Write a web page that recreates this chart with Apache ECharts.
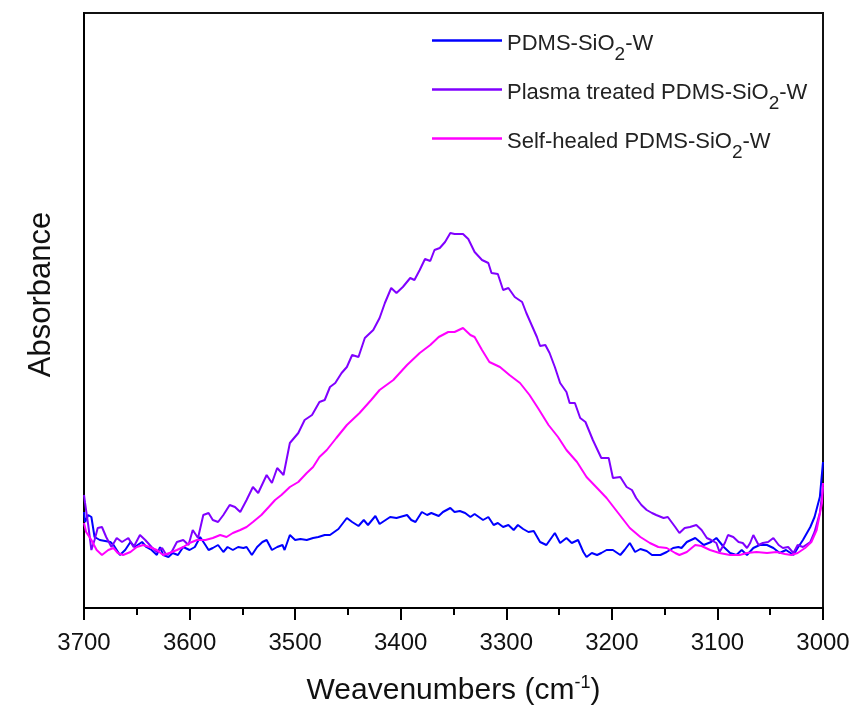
<!DOCTYPE html>
<html>
<head>
<meta charset="utf-8">
<script src="https://cdn.jsdelivr.net/npm/echarts@6/dist/echarts.min.js"></script>
<style>
  html, body { margin: 0; padding: 0; background: #fff; }
  #chart { width: 855px; height: 708px; }
</style>
</head>
<body>
<div id="chart"></div>
<script>
// FTIR spectra in the O-H stretching region, [wavenumber (cm-1), absorbance (a.u.)]
const seriesNames = [
  'PDMS-SiO2-W',
  'Plasma treated PDMS-SiO2-W',
  'Self-healed PDMS-SiO2-W'
];
const seriesColors = ['#0000ff', '#8000ff', '#ff00ff'];

const pdmsSpectrum = [
  [3700,0.096],[3699,0.086],[3696,0.093],[3693,0.091],[3690,0.071],[3685,0.068],[3675,0.066],[3672,0.063],
  [3666,0.053],[3661,0.058],[3656,0.066],[3652,0.061],[3645,0.066],[3641,0.061],[3636,0.058],[3631,0.053],
  [3628,0.061],[3625,0.053],[3620,0.051],[3616,0.055],[3611,0.053],[3606,0.061],[3600,0.058],[3595,0.061],
  [3590,0.071],[3585,0.063],[3582,0.058],[3578,0.060],[3573,0.063],[3568,0.056],[3564,0.061],[3559,0.058],
  [3554,0.061],[3549,0.060],[3546,0.061],[3541,0.053],[3536,0.061],[3531,0.066],[3527,0.068],[3522,0.058],
  [3517,0.061],[3512,0.063],[3510,0.058],[3505,0.073],[3500,0.068],[3495,0.069],[3489,0.068],[3483,0.070],
  [3478,0.071],[3472,0.073],[3467,0.073],[3459,0.079],[3451,0.090],[3446,0.086],[3440,0.082],[3435,0.088],
  [3431,0.083],[3424,0.092],[3420,0.084],[3410,0.091],[3404,0.090],[3394,0.093],[3390,0.088],[3386,0.086],
  [3380,0.096],[3375,0.093],[3371,0.095],[3364,0.092],[3360,0.096],[3353,0.100],[3349,0.096],[3344,0.097],
  [3339,0.095],[3334,0.091],[3330,0.094],[3322,0.088],[3317,0.091],[3312,0.083],[3308,0.085],[3303,0.081],
  [3298,0.083],[3293,0.078],[3289,0.083],[3284,0.079],[3279,0.076],[3274,0.077],[3268,0.066],[3262,0.063],
  [3254,0.075],[3249,0.065],[3243,0.070],[3238,0.065],[3232,0.068],[3227,0.056],[3224,0.051],[3219,0.055],
  [3214,0.053],[3210,0.055],[3205,0.058],[3199,0.058],[3192,0.053],[3188,0.058],[3183,0.065],[3178,0.056],
  [3173,0.059],[3167,0.057],[3162,0.053],[3154,0.053],[3148,0.056],[3142,0.060],[3137,0.061],[3134,0.060],
  [3129,0.066],[3121,0.070],[3113,0.063],[3106,0.066],[3101,0.070],[3094,0.061],[3088,0.055],[3082,0.053],
  [3077,0.058],[3072,0.053],[3066,0.060],[3060,0.063],[3053,0.063],[3047,0.060],[3041,0.055],[3035,0.058],
  [3028,0.053],[3024,0.060],[3019,0.068],[3012,0.081],[3008,0.091],[3003,0.111],[3000,0.146]
];

const plasmaSpectrum = [
  [3700,0.113],[3699,0.105],[3696,0.083],[3693,0.058],[3690,0.068],[3687,0.080],[3683,0.081],[3679,0.071],
  [3674,0.061],[3669,0.070],[3664,0.066],[3658,0.070],[3653,0.061],[3647,0.073],[3642,0.068],[3636,0.061],
  [3631,0.056],[3626,0.060],[3622,0.053],[3617,0.056],[3612,0.066],[3606,0.068],[3601,0.063],[3597,0.078],
  [3592,0.070],[3587,0.093],[3582,0.095],[3578,0.088],[3573,0.086],[3568,0.093],[3562,0.103],[3557,0.101],
  [3552,0.096],[3546,0.108],[3540,0.121],[3535,0.115],[3527,0.133],[3522,0.125],[3517,0.140],[3511,0.133],
  [3505,0.165],[3497,0.175],[3491,0.188],[3484,0.193],[3477,0.206],[3472,0.208],[3467,0.221],[3462,0.225],
  [3456,0.235],[3451,0.241],[3446,0.253],[3440,0.251],[3434,0.270],[3426,0.278],[3420,0.290],[3415,0.305],
  [3409,0.320],[3404,0.315],[3398,0.321],[3391,0.330],[3387,0.328],[3382,0.338],[3377,0.349],[3372,0.347],
  [3368,0.358],[3363,0.360],[3358,0.366],[3353,0.375],[3349,0.374],[3341,0.374],[3336,0.369],[3330,0.356],
  [3323,0.348],[3317,0.345],[3314,0.335],[3308,0.334],[3303,0.318],[3298,0.320],[3292,0.311],[3285,0.306],
  [3281,0.295],[3276,0.283],[3271,0.271],[3268,0.262],[3263,0.263],[3259,0.255],[3254,0.241],[3249,0.225],
  [3243,0.216],[3240,0.205],[3235,0.205],[3230,0.190],[3225,0.186],[3218,0.168],[3210,0.150],[3203,0.150],
  [3199,0.130],[3192,0.131],[3186,0.121],[3181,0.118],[3177,0.110],[3172,0.103],[3167,0.098],[3162,0.095],
  [3158,0.093],[3151,0.090],[3147,0.091],[3140,0.081],[3136,0.075],[3131,0.080],[3126,0.081],[3120,0.083],
  [3115,0.078],[3110,0.070],[3106,0.068],[3101,0.065],[3098,0.056],[3093,0.065],[3090,0.073],[3085,0.071],
  [3080,0.066],[3076,0.065],[3072,0.060],[3069,0.065],[3066,0.073],[3061,0.063],[3057,0.065],[3052,0.066],
  [3047,0.070],[3042,0.063],[3038,0.060],[3033,0.061],[3028,0.055],[3024,0.063],[3019,0.061],[3012,0.066],
  [3008,0.076],[3003,0.095],[3000,0.121]
];

const healedSpectrum = [
  [3700,0.085],[3698,0.076],[3693,0.068],[3688,0.058],[3683,0.053],[3677,0.058],[3672,0.060],[3668,0.055],
  [3663,0.053],[3656,0.056],[3650,0.061],[3644,0.063],[3638,0.061],[3631,0.058],[3625,0.053],[3619,0.055],
  [3612,0.058],[3606,0.061],[3600,0.065],[3593,0.068],[3585,0.068],[3578,0.070],[3571,0.073],[3565,0.071],
  [3559,0.075],[3552,0.078],[3546,0.081],[3540,0.086],[3532,0.093],[3525,0.101],[3519,0.108],[3513,0.113],
  [3505,0.121],[3497,0.126],[3489,0.135],[3483,0.141],[3477,0.151],[3470,0.158],[3461,0.170],[3451,0.183],
  [3439,0.195],[3428,0.208],[3420,0.218],[3407,0.228],[3394,0.243],[3382,0.255],[3372,0.263],[3364,0.271],
  [3355,0.276],[3349,0.276],[3341,0.280],[3334,0.273],[3330,0.271],[3323,0.258],[3316,0.246],[3306,0.241],
  [3297,0.233],[3287,0.225],[3278,0.213],[3270,0.200],[3260,0.183],[3251,0.171],[3243,0.158],[3233,0.146],
  [3224,0.131],[3214,0.120],[3205,0.110],[3194,0.095],[3183,0.080],[3173,0.071],[3164,0.065],[3156,0.061],
  [3148,0.060],[3140,0.055],[3136,0.053],[3129,0.056],[3121,0.063],[3115,0.062],[3107,0.058],[3098,0.055],
  [3088,0.053],[3079,0.053],[3072,0.055],[3063,0.056],[3053,0.055],[3044,0.056],[3036,0.054],[3030,0.053],
  [3024,0.055],[3017,0.060],[3011,0.066],[3006,0.078],[3001,0.105],[3000,0.125]
];

const xTicks = [3000, 3700, 100];   // min, max, step of the wavenumber axis
const yRange = [0, 0.595];

const FONT = '"Liberation Sans", Arial, sans-serif';
const spectra = [pdmsSpectrum, plasmaSpectrum, healedSpectrum];

// legend text with a subscripted "2"
function legendLabel(name) {
  const i = name.indexOf('SiO2');
  return '{t|' + name.slice(0, i + 3) + '}{s|2}{t|' + name.slice(i + 4) + '}';
}

const chart = echarts.init(document.getElementById('chart'), null, { renderer: 'canvas' });

chart.setOption({
  backgroundColor: '#ffffff',
  animation: false,
  grid: {
    left: 84, right: 32, top: 13, bottom: 100,
    outerBoundsMode: 'none',
    containLabel: false,
    show: true, borderColor: '#111', borderWidth: 2, backgroundColor: 'transparent'
  },
  legend: {
    orient: 'vertical',
    left: 427, top: 12,
    itemWidth: 70, itemHeight: 2.5, itemGap: 2,
    icon: 'rect',
    data: seriesNames,
    formatter: legendLabel,
    textStyle: {
      color: '#222',
      fontFamily: FONT,
      rich: {
        t: { fontSize: 22, fontFamily: FONT, color: '#222', lineHeight: 28, padding: [6, 0, 0, 0] },
        s: { fontSize: 19, fontFamily: FONT, color: '#222', lineHeight: 28, padding: [28, 0, 0, 0] }
      }
    }
  },
  xAxis: {
    type: 'value',
    inverse: true,
    min: xTicks[0], max: xTicks[1], interval: xTicks[2],
    name: '{n|Weavenumbers (cm}{p|-1}{n|)}',
    nameLocation: 'middle',
    nameGap: 66,
    nameTextStyle: {
      rich: {
        n: { fontSize: 30, fontFamily: FONT, color: '#111', lineHeight: 34 },
        p: { fontSize: 18, fontFamily: FONT, color: '#111', lineHeight: 34, padding: [0, 0, 16, 0] }
      }
    },
    axisLine: { show: true, onZero: false, lineStyle: { color: '#000', width: 2 } },
    axisTick: { show: true, inside: false, length: 12, lineStyle: { color: '#000', width: 2 } },
    minorTick: { show: true, splitNumber: 2, length: 7, lineStyle: { color: '#000', width: 2 } },
    axisLabel: {
      show: true, margin: 23, fontSize: 24, fontFamily: FONT, color: '#111',
      formatter: (v) => String(v)
    },
    splitLine: { show: false },
    minorSplitLine: { show: false }
  },
  yAxis: {
    type: 'value',
    min: yRange[0], max: yRange[1],
    name: 'Absorbance',
    nameLocation: 'middle',
    nameGap: 27,
    nameRotate: 90,
    nameTextStyle: { fontSize: 31, fontFamily: FONT, color: '#111', padding: [0, 0, 0, 32] },
    axisLine: { show: true, onZero: false, lineStyle: { color: '#000', width: 2 } },
    axisTick: { show: false },
    axisLabel: { show: false },
    splitLine: { show: false }
  },
  series: seriesNames.map((name, k) => ({
    name: name,
    type: 'line',
    data: spectra[k],
    showSymbol: false,
    symbol: 'none',
    smooth: false,
    color: seriesColors[k],
    lineStyle: { color: seriesColors[k], width: 2 },
    z: 2 + k
  }))
});
</script>
</body>
</html>
